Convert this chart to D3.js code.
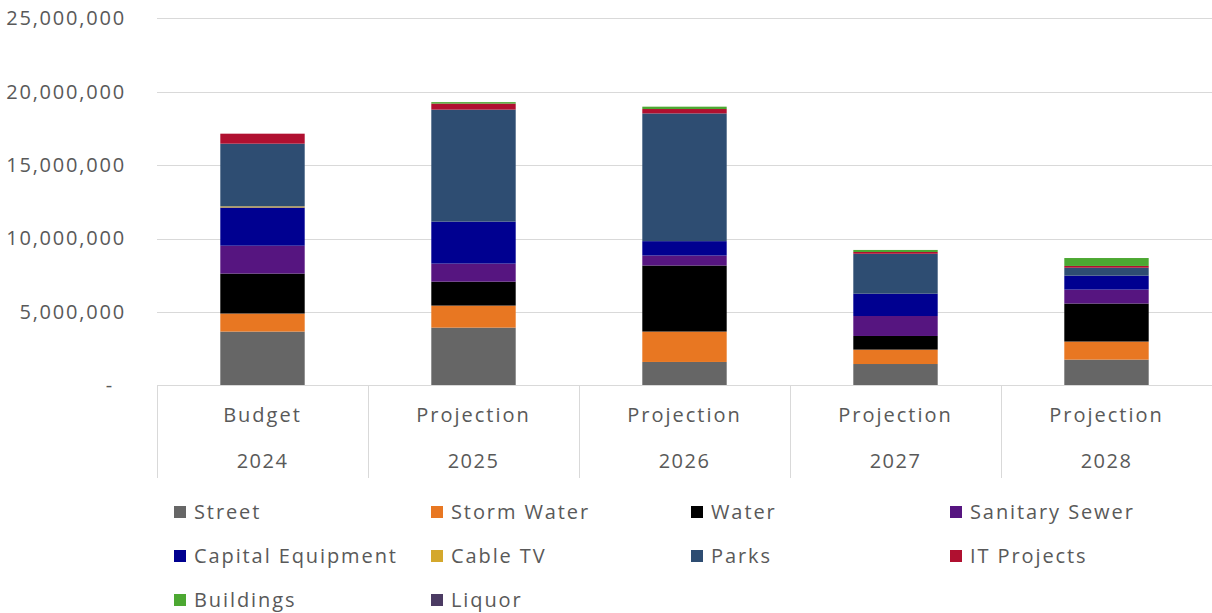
<!DOCTYPE html>
<html>
<head>
<meta charset="utf-8">
<script src="https://cdn.jsdelivr.net/npm/d3@7"></script>
<style>
  html, body { margin: 0; padding: 0; background: #ffffff; }
  svg { display: block; font-family: "Open Sans", "Noto Sans", sans-serif; }
</style>
</head>
<body>
<svg id="chart" width="1212" height="613"></svg>
<script>
// Capital project spending by year (dollars)
const years = ["2024", "2025", "2026", "2027", "2028"];
const stages = ["Budget", "Projection", "Projection", "Projection", "Projection"];

const seriesNames = ["Street", "Storm Water", "Water", "Sanitary Sewer", "Capital Equipment",
                     "Cable TV", "Parks", "IT Projects", "Buildings", "Liquor"];
const seriesColors = ["#666666", "#E87722", "#000000", "#561580", "#000090",
                      "#D4A82C", "#2E4D72", "#B01030", "#4CA832", "#4B3B63"];

const street           = [3660000, 3930000, 1590000, 1450000, 1750000];
const stormWater       = [1230000, 1500000, 2070000,  980000, 1230000];
const water            = [2720000, 1630000, 4500000,  930000, 2590000];
const sanitarySewer    = [1900000, 1230000,  680000, 1360000,  950000];
const capitalEquipment = [2600000, 2860000,  980000, 1520000,  950000];
const cableTV          = [  80000,       0,       0,       0,       0];
const parks            = [4270000, 7630000, 8700000, 2720000,  540000];
const itProjects       = [ 680000,  410000,  300000,  120000,  120000];
const buildings        = [      0,  100000,  160000,  140000,  540000];
const liquor           = [      0,       0,       0,       0,       0];

const seriesValues = [street, stormWater, water, sanitarySewer, capitalEquipment,
                      cableTV, parks, itProjects, buildings, liquor];

const yTicks = [0, 5000000, 10000000, 15000000, 20000000, 25000000];

// Build rows for the stack layout
const rows = years.map((y, i) => {
  const r = { year: y };
  seriesNames.forEach((n, k) => { r[n] = seriesValues[k][i]; });
  return r;
});

const svg = d3.select("#chart");
const textColor = "#595959";
const gridColor = "#D9D9D9";

const x = d3.scaleBand().domain(years).range([157, 1212]).paddingInner(0.6).paddingOuter(0.3);
const y = d3.scaleLinear().domain([0, 25000000]).range([385.3, 18.3]);

// Horizontal gridlines
svg.append("g").selectAll("line").data(yTicks.filter(t => t > 0)).join("line")
  .attr("x1", 157).attr("x2", 1212)
  .attr("y1", d => Math.round(y(d)) + 0.5).attr("y2", d => Math.round(y(d)) + 0.5)
  .attr("stroke", gridColor).attr("stroke-width", 1);

// Value axis labels
const fmt = d3.format(",");
const yAxis = d3.axisLeft(y).tickValues(yTicks).tickSize(0).tickPadding(0)
  .tickFormat(d => d === 0 ? "-" : fmt(d));
const yg = svg.append("g").attr("transform", "translate(126,0)").call(yAxis);
yg.select(".domain").remove();
yg.selectAll("text")
  .attr("fill", textColor).attr("font-size", 20).attr("letter-spacing", 1.8)
  .attr("font-family", "'Open Sans', sans-serif")
  .attr("dx", d => d === 0 ? -12 : 0);

// Stacked bars
const stack = d3.stack().keys(seriesNames);
const layers = stack(rows);
svg.append("g").selectAll("g").data(layers).join("g")
  .attr("fill", (d, i) => seriesColors[i])
  .selectAll("rect").data(d => d).join("rect")
  .attr("x", d => x(d.data.year))
  .attr("width", x.bandwidth())
  .attr("y", d => y(d[1]))
  .attr("height", d => Math.max(0, y(d[0]) - y(d[1])));

// Category axis line and multi-level separators
svg.append("line").attr("x1", 157).attr("x2", 1212).attr("y1", 385.5).attr("y2", 385.5)
  .attr("stroke", gridColor);
const bounds = years.map(yr => x(yr) - x.step() * x.paddingInner() / 2);
bounds.push(1212);
bounds[0] = 157;
svg.append("g").selectAll("line").data(bounds).join("line")
  .attr("x1", d => Math.round(d) + 0.5).attr("x2", d => Math.round(d) + 0.5)
  .attr("y1", 385).attr("y2", 478)
  .attr("stroke", gridColor);

const xc = d => x(d) + x.bandwidth() / 2;
svg.append("g").selectAll("text").data(years).join("text")
  .attr("x", d => xc(d)).attr("y", 422)
  .attr("text-anchor", "middle").attr("fill", textColor)
  .attr("font-size", 20).attr("letter-spacing", 2)
  .text((d, i) => stages[i]);
svg.append("g").selectAll("text").data(years).join("text")
  .attr("x", d => xc(d)).attr("y", 468)
  .attr("text-anchor", "middle").attr("fill", textColor)
  .attr("font-size", 20).attr("letter-spacing", 1.5)
  .text(d => d);

// Legend
const colX = [174, 431, 691, 950];
const rowY = [512, 556, 600];
const legend = svg.append("g").selectAll("g").data(seriesNames).join("g")
  .attr("transform", (d, i) => `translate(${colX[i % 4]},${rowY[Math.floor(i / 4)]})`);
legend.append("rect")
  .attr("x", 0).attr("y", -6).attr("width", 12).attr("height", 12)
  .attr("fill", (d, i) => seriesColors[i]);
legend.append("text")
  .attr("x", 20).attr("y", 0).attr("dy", "0.35em")
  .attr("fill", textColor).attr("font-size", 20).attr("letter-spacing", 1.9)
  .text(d => d);
</script>
</body>
</html>
